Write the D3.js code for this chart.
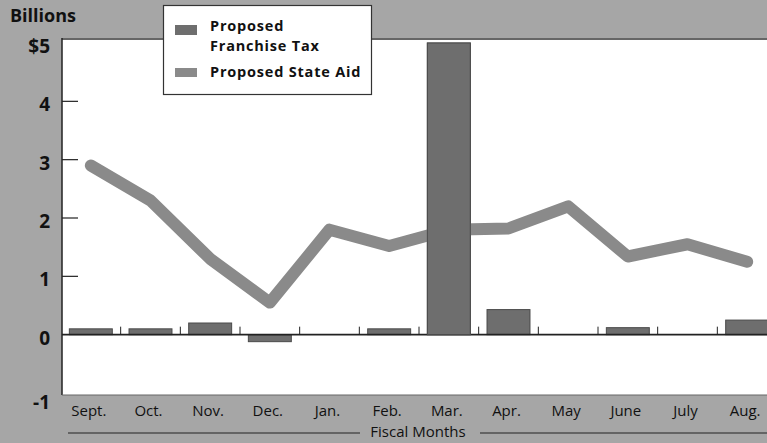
<!DOCTYPE html>
<html>
<head>
<meta charset="utf-8">
<script src="https://cdn.jsdelivr.net/npm/d3@7"></script>
<style>
  body { margin: 0; background: #a6a6a6; }
  svg { display: block; }
  text { font-family: "Open Sans", "Liberation Sans", sans-serif; fill: #111; }
</style>
</head>
<body>
<script>
var width = 767;
var height = 443;

// data (billions of dollars)
var months = ['Sept.', 'Oct.', 'Nov.', 'Dec.', 'Jan.', 'Feb.', 'Mar.', 'Apr.', 'May', 'June', 'July', 'Aug.'];
var franchiseTax = [0.1, 0.1, 0.2, -0.12, 0, 0.1, 5.0, 0.43, 0, 0.12, 0, 0.25];
var stateAid = [2.9, 2.3, 1.3, 0.55, 1.8, 1.52, 1.8, 1.82, 2.2, 1.34, 1.55, 1.25];
var yTicks = [5, 4, 3, 2, 1, 0, -1];
var yTickLabels = ['$5', '4', '3', '2', '1', '0', '-1'];

var svg, x, y;

function init() {
    svg = createCanvas();
    x = d3.scaleBand().domain(months).range([61, 777]).paddingInner(0.28).paddingOuter(0.14);
    y = d3.scaleLinear().domain([-1, 5]).range([393, 43]);
    drawPlotArea();
    drawYAxis();
    drawBars();
    drawLine();
    drawXAxis();
    drawLegend();
}

function createCanvas() {
    return d3.select('body')
        .append('svg')
        .attr('width', width)
        .attr('height', height);
}

function drawPlotArea() {
    svg.append('rect')
        .attr('width', width).attr('height', height)
        .attr('fill', '#a6a6a6');
    svg.append('rect')
        .attr('x', 62).attr('y', 38)
        .attr('width', width - 62).attr('height', 357)
        .attr('fill', '#fff');
    // frame lines
    svg.append('line').attr('x1', 62).attr('x2', width).attr('y1', 39).attr('y2', 39)
        .attr('stroke', '#333').attr('stroke-width', 1.5);
    svg.append('line').attr('x1', 62).attr('x2', 62).attr('y1', 38).attr('y2', 395)
        .attr('stroke', '#222').attr('stroke-width', 1.5);
    svg.append('line').attr('x1', 62).attr('x2', width).attr('y1', 395).attr('y2', 395)
        .attr('stroke', '#666').attr('stroke-width', 1);

    svg.append('text')
        .attr('x', 10).attr('y', 22)
        .attr('font-size', 18).attr('font-weight', 'bold')
        .text('Billions');
}

function drawYAxis() {
    var g = svg.append('g');
    g.selectAll('line.tick')
        .data(yTicks.filter(function(d) { return d > -1 && d < 5 && d !== 0; }))
        .enter().append('line')
        .attr('class', 'tick')
        .attr('x1', 62).attr('x2', 78)
        .attr('y1', function(d) { return y(d); })
        .attr('y2', function(d) { return y(d); })
        .attr('stroke', '#222').attr('stroke-width', 1.2);
    g.selectAll('text')
        .data(yTicks)
        .enter().append('text')
        .attr('x', 50)
        .attr('y', function(d) { return y(d) + (d === -1 ? 11 : 5); })
        .attr('text-anchor', 'end')
        .attr('dominant-baseline', 'middle')
        .attr('font-size', 19).attr('font-weight', 'bold')
        .text(function(d, i) { return yTickLabels[i]; });
}

function drawBars() {
    svg.append('g').selectAll('rect')
        .data(months.map(function(m, i) { return { month: m, value: franchiseTax[i] }; })
            .filter(function(d) { return d.value !== 0; }))
        .enter().append('rect')
        .attr('x', function(d) { return x(d.month); })
        .attr('width', x.bandwidth())
        .attr('y', function(d) { return y(Math.max(0, d.value)); })
        .attr('height', function(d) { return Math.abs(y(d.value) - y(0)); })
        .attr('fill', '#6e6e6e')
        .attr('stroke', '#4a4a4a').attr('stroke-width', 1);

    // zero line and band separators
    svg.append('line')
        .attr('x1', 62).attr('x2', width)
        .attr('y1', y(0)).attr('y2', y(0))
        .attr('stroke', '#222').attr('stroke-width', 1.6);
    svg.append('g').selectAll('line')
        .data(months.slice(1))
        .enter().append('line')
        .attr('x1', function(d) { return x(d) - x.step() * x.paddingInner() / 2; })
        .attr('x2', function(d) { return x(d) - x.step() * x.paddingInner() / 2; })
        .attr('y1', y(0) - 8).attr('y2', y(0))
        .attr('stroke', '#222').attr('stroke-width', 1);
}

function drawLine() {
    var line = d3.line()
        .x(function(d, i) { return x(months[i]) + x.bandwidth() / 2; })
        .y(function(d) { return y(d); });
    svg.append('path')
        .datum(stateAid)
        .attr('d', line)
        .attr('fill', 'none')
        .attr('stroke', '#8a8a8a')
        .attr('stroke-width', 12)
        .attr('stroke-linejoin', 'round')
        .attr('stroke-linecap', 'round');
    // the tall bar sits over the line
    svg.append('rect')
        .attr('x', x('Mar.')).attr('width', x.bandwidth())
        .attr('y', y(franchiseTax[6])).attr('height', y(0) - y(franchiseTax[6]))
        .attr('fill', '#6e6e6e')
        .attr('stroke', '#4a4a4a').attr('stroke-width', 1);
}

function drawXAxis() {
    svg.append('g').selectAll('text')
        .data(months)
        .enter().append('text')
        .attr('x', function(d) { return x(d) + x.bandwidth() / 2 - 2; })
        .attr('y', 416)
        .attr('text-anchor', 'middle')
        .attr('font-size', 15)
        .text(function(d) { return d; });

    svg.append('text')
        .attr('x', 418).attr('y', 437)
        .attr('text-anchor', 'middle')
        .attr('font-size', 15)
        .text('Fiscal Months');
    svg.append('line').attr('x1', 68).attr('x2', 360).attr('y1', 433).attr('y2', 433)
        .attr('stroke', '#222').attr('stroke-width', 1.2);
    svg.append('line').attr('x1', 480).attr('x2', width).attr('y1', 433).attr('y2', 433)
        .attr('stroke', '#222').attr('stroke-width', 1.2);
}

function drawLegend() {
    var g = svg.append('g');
    g.append('rect')
        .attr('x', 163.5).attr('y', 5.5)
        .attr('width', 208).attr('height', 89)
        .attr('fill', '#fff')
        .attr('stroke', '#333').attr('stroke-width', 1.2);
    g.append('rect').attr('x', 175).attr('y', 25).attr('width', 22).attr('height', 10)
        .attr('fill', '#6e6e6e');
    g.append('rect').attr('x', 175).attr('y', 68).attr('width', 22).attr('height', 9)
        .attr('fill', '#8a8a8a');
    var labels = [['Proposed', 31], ['Franchise Tax', 51], ['Proposed State Aid', 77]];
    g.selectAll('text')
        .data(labels)
        .enter().append('text')
        .attr('x', 210)
        .attr('y', function(d) { return d[1]; })
        .attr('font-size', 14.5).attr('font-weight', 'bold')
        .attr('letter-spacing', 0.8)
        .text(function(d) { return d[0]; });
}

init();
</script>
</body>
</html>
